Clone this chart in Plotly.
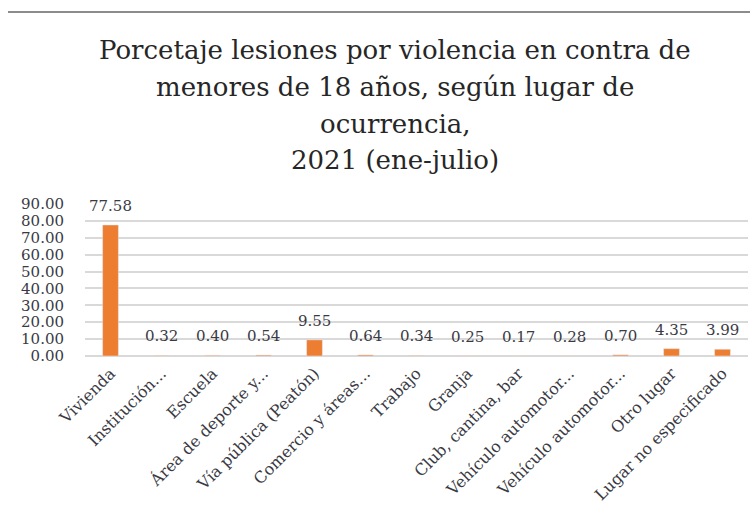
import plotly.graph_objects as go

categories = ["Vivienda", "Institución...", "Escuela", "Área de deporte y...",
              "Vía pública (Peatón)", "Comercio y áreas...", "Trabajo", "Granja",
              "Club, cantina, bar", "Vehículo automotor...", "Vehículo automotor...",
              "Otro lugar", "Lugar no especificado"]
values = [77.58, 0.32, 0.40, 0.54, 9.55, 0.64, 0.34, 0.25, 0.17, 0.28, 0.70, 4.35, 3.99]
y_ticks = [0, 10, 20, 30, 40, 50, 60, 70, 80, 90]
title_lines = ["Porcetaje lesiones por violencia en contra de",
               "menores de 18 años, según lugar de",
               "ocurrencia,",
               "2021 (ene-julio)"]

positions = list(range(len(categories)))
serif = "DejaVu Serif, Liberation Serif, serif"
PLOT_LEFT, PLOT_RIGHT = 85, 748
PLOT_TOP, PLOT_BOTTOM = 204, 356
PLOT_W = PLOT_RIGHT - PLOT_LEFT
PLOT_H = PLOT_BOTTOM - PLOT_TOP
title_centers = [50, 87, 124, 160]

fig = go.Figure(go.Bar(
    x=positions, y=values,
    marker_color="#ED7D31",
))

annotations = [
    dict(x=p, y=v, xref="x", yref="y", text=f"{v:.2f}", showarrow=False,
         yanchor="middle", yshift=19,
         font=dict(family=serif, size=15, color="#3a3a44"))
    for p, v in zip(positions, values)
]
for line, cy in zip(title_lines, title_centers):
    annotations.append(dict(
        xref="paper", yref="paper", x=(395 - PLOT_LEFT) / PLOT_W,
        y=(PLOT_BOTTOM - cy) / PLOT_H,
        xanchor="center", yanchor="middle", showarrow=False,
        text=line, font=dict(family=serif, size=26, color="#262626"),
    ))

fig.update_layout(
    width=750, height=520,
    paper_bgcolor="white", plot_bgcolor="white",
    margin=dict(l=PLOT_LEFT, r=750 - PLOT_RIGHT, t=PLOT_TOP, b=520 - PLOT_BOTTOM,
                autoexpand=False),
    bargap=0.69,
    showlegend=False,
    annotations=annotations,
    shapes=[dict(type="line", xref="paper", yref="paper",
                 x0=(8 - PLOT_LEFT) / PLOT_W, x1=(750 - PLOT_LEFT) / PLOT_W,
                 y0=(PLOT_BOTTOM - 12) / PLOT_H, y1=(PLOT_BOTTOM - 12) / PLOT_H,
                 line=dict(color="#8c8c8c", width=2))],
)

fig.update_xaxes(
    tickmode="array", tickvals=positions, ticktext=categories,
    tickangle=-45, range=[-0.5, len(categories) - 0.5], automargin=False,
    tickfont=dict(family=serif, size=16, color="#3a3a44"),
    showline=False, showgrid=False, ticks="", ticklabelstandoff=4,
)
fig.update_yaxes(
    range=[0, 90], tickvals=y_ticks, ticktext=[f"{v:.2f}" for v in y_ticks],
    automargin=False,
    tickfont=dict(family=serif, size=15, color="#3a3a44"),
    gridcolor="#d9d9d9", gridwidth=1.5, zeroline=True, zerolinecolor="#d9d9d9",
    zerolinewidth=1.5, ticks="", ticklabelstandoff=20,
)

fig.write_html("out.html", config={"displayModeBar": False},
               post_script="document.body.style.margin='0';document.body.style.padding='0';")
